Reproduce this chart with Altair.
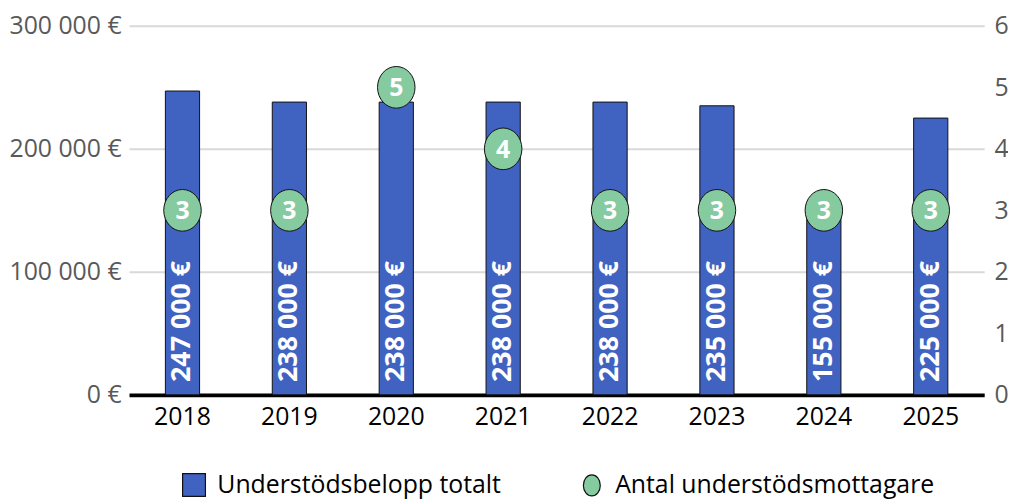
import altair as alt
import pandas as pd

years = ["2018", "2019", "2020", "2021", "2022", "2023", "2024", "2025"]
amounts = [247000, 238000, 238000, 238000, 238000, 235000, 155000, 225000]
recipients = [3, 3, 5, 4, 3, 3, 3, 3]
series_names = ["Understödsbelopp totalt", "Antal understödsmottagare"]

BLUE = "#4062C0"
GREEN = "#86CBA0"
FONT = "Open Sans"

df = pd.DataFrame({
    "year": years,
    "amount": amounts,
    "recipients": recipients,
    "amount_label": [f"{a:,}".replace(",", " ") + " €" for a in amounts],
    "series": [series_names[1]] * len(years),
})

ellipse_data = "M-0.9,0A0.9,1,0,1,0,0.9,0A0.9,1,0,1,0,-0.9,0Z"
ellipse_legend = "M-0.74,0A0.74,0.92,0,1,0,0.74,0A0.74,0.92,0,1,0,-0.74,0Z"

x_enc = alt.X(
    "year:N",
    sort=years,
    title=None,
    scale=alt.Scale(paddingInner=0.68, paddingOuter=0.34),
    axis=alt.Axis(
        labelAngle=0, labelFontSize=25, labelColor="#000000", labelFont=FONT,
        labelPadding=10, ticks=False, domainColor="#000000", domainWidth=4,
        grid=False,
    ),
)

y_left = alt.Y(
    "amount:Q",
    title=None,
    scale=alt.Scale(domain=[0, 300000], nice=False),
    axis=alt.Axis(
        orient="left", values=[0, 100000, 200000, 300000],
        labelExpr="replace(format(datum.value, ',d'), /,/g, ' ') + ' €'",
        labelFontSize=25, labelColor="#595959", labelFont=FONT, labelPadding=8,
        ticks=False, domain=False, grid=True, gridColor="#d9d9d9", gridWidth=2,
    ),
)

bars = alt.Chart(df).mark_bar(
    color=BLUE, stroke="#111111", strokeWidth=1
).encode(x=x_enc, y=y_left)

bar_labels = alt.Chart(df).mark_text(
    angle=270, align="left", baseline="middle", dx=13,
    color="white", fontSize=27, fontWeight="bold", font=FONT,
).encode(x=x_enc, y=alt.datum(0), text="amount_label:N")

left = alt.layer(bars, bar_labels)

y_right = alt.Y(
    "recipients:Q",
    title=None,
    scale=alt.Scale(domain=[0, 6], nice=False),
    axis=alt.Axis(
        orient="right", values=[0, 1, 2, 3, 4, 5, 6],
        labelFontSize=25, labelColor="#595959", labelFont=FONT, labelPadding=10,
        ticks=False, domain=False, grid=False,
    ),
)

points = alt.Chart(df).mark_point(
    filled=True, fill=GREEN, stroke="#111111", strokeWidth=1, opacity=1,
    size=1764, shape=ellipse_data,
).encode(x=x_enc, y=y_right)

point_labels = alt.Chart(df).mark_text(
    color="white", fontSize=25, fontWeight="bold", font=FONT, baseline="middle",
    dy=1,
).encode(x=x_enc, y=y_right, text="recipients:Q")

legend_props = dict(
    title=None, orient="none", direction="horizontal",
    legendX=53, legendY=450, padding=0,
    labelFontSize=25, labelFont=FONT, labelColor="#000000",
    labelOffset=11, columnPadding=79, symbolSize=529,
    symbolStrokeWidth=1.2, symbolOpacity=1, labelLimit=500,
)

legend_layer = alt.Chart(df).transform_filter("false").mark_point(
    filled=True, size=529, strokeWidth=1
).encode(
    x=x_enc,
    y=y_right,
    fill=alt.Fill(
        "series:N",
        scale=alt.Scale(domain=series_names, range=[BLUE, GREEN]),
        legend=alt.Legend(**legend_props),
    ),
    stroke=alt.Stroke(
        "series:N",
        scale=alt.Scale(domain=series_names, range=["#111111", "#111111"]),
        legend=alt.Legend(**legend_props),
    ),
    shape=alt.Shape(
        "series:N",
        scale=alt.Scale(domain=series_names, range=["square", ellipse_legend]),
        legend=alt.Legend(**legend_props),
    ),
)

right = alt.layer(points, point_labels, legend_layer)

chart = alt.layer(left, right).resolve_scale(y="independent").properties(
    width=862,
    height=372,
    autosize=alt.AutoSizeParams(type="none"),
    padding={"left": 122, "top": 16, "right": 24, "bottom": 103},
).configure(font=FONT).configure_view(stroke="transparent", strokeWidth=0)

chart.save("out.html", embed_options={"renderer": "svg", "actions": False})
